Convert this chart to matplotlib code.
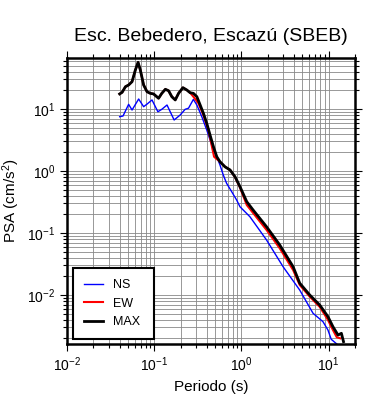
import numpy as np
import matplotlib
matplotlib.use("Agg")
import matplotlib.pyplot as plt

plt.rcParams['font.family'] = ['Liberation Sans', 'DejaVu Sans']
plt.rcParams['mathtext.default'] = 'regular'

# periodos (s) y PSA (cm/s2)
T_max = [0.0401, 0.0428, 0.0467, 0.0508, 0.0556, 0.0607, 0.0652, 0.0692, 0.0755,
         0.0826, 0.0900, 0.0982, 0.112, 0.122, 0.134, 0.146, 0.159, 0.174, 0.190,
         0.213, 0.237, 0.258, 0.281, 0.308, 0.336, 0.366, 0.400, 0.436, 0.477,
         0.521, 0.567, 0.647, 0.740, 0.843, 0.962, 1.15, 1.36, 1.94, 2.75, 3.91,
         4.66, 6.07, 7.89, 9.82, 11.2, 12.8, 14.0, 14.8]
psa_max = [17.5, 18.6, 22.9, 24.4, 27.6, 42.6, 56.6, 42.6, 24.4,
           19.0, 17.9, 17.5, 14.9, 17.9, 20.8, 19.7, 15.8, 14.0, 17.9,
           22.1, 20.2, 18.3, 17.9, 15.8, 11.6, 8.53, 5.87, 3.81, 2.47,
           1.70, 1.41, 1.17, 1.04, 0.81, 0.559, 0.320, 0.235, 0.126, 0.0640, 0.0286,
           0.0155, 0.0100, 0.00690, 0.00447, 0.00308, 0.00226, 0.00241, 0.00177]

T_ew = [0.0401, 0.0428, 0.0467, 0.0508, 0.0556, 0.0607, 0.0652, 0.0692, 0.0755,
        0.0826, 0.0900, 0.0982, 0.112, 0.122, 0.134, 0.146, 0.159, 0.174, 0.190,
        0.213, 0.237, 0.258, 0.281, 0.321, 0.366, 0.418, 0.485, 0.567, 0.647,
        0.740, 0.843, 0.962, 1.15, 1.94, 2.75, 3.91, 4.66, 6.07, 7.89, 9.82,
        11.2, 12.4, 13.6]
psa_ew = [17.5, 18.6, 22.9, 24.4, 27.6, 42.6, 56.6, 42.6, 24.4,
          19.0, 17.9, 17.5, 14.9, 17.9, 20.8, 19.7, 15.8, 14.0, 17.9,
          22.1, 20.2, 18.3, 15.8, 12.4, 8.0, 4.58, 1.70, 1.41, 1.17,
          1.04, 0.80, 0.54, 0.283, 0.112, 0.0566, 0.0253, 0.0145, 0.0094, 0.00645, 0.00396,
          0.00272, 0.00208, 0.00200]

T_ns = [0.0401, 0.0438, 0.0508, 0.0556, 0.0662, 0.0755, 0.0826, 0.0942, 0.110,
        0.122, 0.140, 0.169, 0.198, 0.226, 0.247, 0.281, 0.308, 0.351, 0.400,
        0.456, 0.521, 0.567, 0.619, 0.675, 0.773, 0.881, 0.962, 1.25, 1.94,
        3.0, 4.66, 6.62, 8.61, 9.82, 10.7, 12.8]
psa_ns = [7.51, 7.71, 11.9, 9.63, 14.5, 10.9, 12.0, 14.0, 9.04,
          9.89, 11.6, 6.65, 8.0, 9.89, 10.3, 14.3, 11.6, 7.51, 4.58,
          2.62, 1.70, 1.25, 0.861, 0.634, 0.463, 0.340, 0.265, 0.183, 0.0771,
          0.0286, 0.0120, 0.00507, 0.00371, 0.00272, 0.00193, 0.00156]

fig = plt.figure(figsize=(3.9, 4.0), dpi=100)
ax = fig.add_axes([0.172, 0.14, 0.738, 0.715])

ax.loglog(T_ns, psa_ns, color='#0000ff', lw=1.0, label='NS')
ax.loglog(T_ew, psa_ew, color='#ff0000', lw=1.5, label='EW')
ax.loglog(T_max, psa_max, color='black', lw=2.0, label='MAX')

ax.set_xlim(0.01, 20)
ax.set_ylim(0.00162, 66.5)
ax.grid(True, which='both', color='#888888', lw=0.6)
ax.set_axisbelow(True)

for s in ax.spines.values():
    s.set_linewidth(1.8)
ax.tick_params(which='both', direction='out', top=True, right=True,
               width=0.8, labelsize=10)
ax.tick_params(which='major', length=5)
ax.tick_params(which='minor', length=3)

ax.set_title('Esc. Bebedero, Escazú (SBEB)', fontsize=14, pad=12)
ax.set_xlabel('Periodo (s)', fontsize=11)
ax.set_ylabel('PSA (cm/s$^2$)', fontsize=11)

leg = ax.legend(loc='lower left', bbox_to_anchor=(0.021, 0.017, 0.28, 0.256),
                mode='expand', borderaxespad=0, fancybox=False, framealpha=1,
                edgecolor='black', fontsize=9, handlelength=1.5,
                labelspacing=0.5, borderpad=0.9)
leg.get_frame().set_linewidth(1.5)

fig.savefig('out.png', dpi=100)
